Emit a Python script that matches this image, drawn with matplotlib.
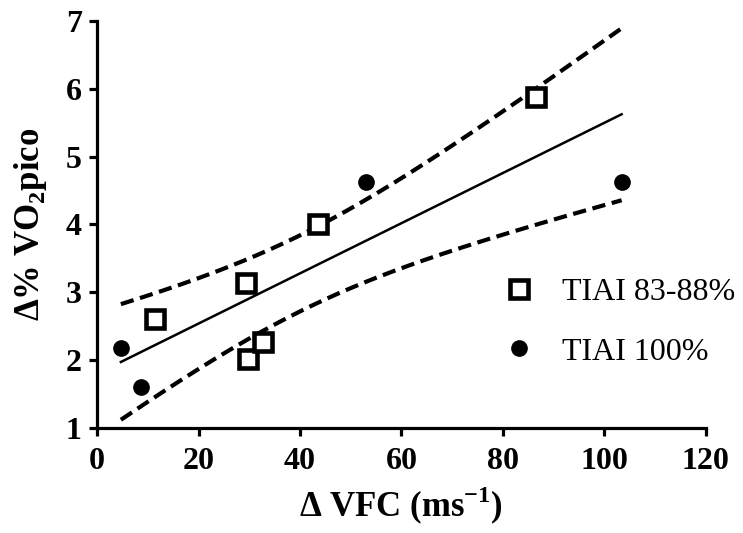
import numpy as np
import matplotlib
matplotlib.use("Agg")
import matplotlib.pyplot as plt

plt.rcParams['font.family'] = ['Liberation Serif', 'DejaVu Serif']
plt.rcParams['mathtext.fontset'] = 'custom'
plt.rcParams['mathtext.rm'] = 'Liberation Serif'
plt.rcParams['mathtext.bf'] = 'Liberation Serif:bold'

# TIAI 83-88% (open squares)
sq_x = [11.4, 29.4, 29.8, 32.8, 43.5, 86.5]
sq_y = [2.60, 3.13, 2.01, 2.26, 4.00, 5.87]
# TIAI 100% (filled circles)
ci_x = [4.7, 8.7, 53.0, 103.4]
ci_y = [2.18, 1.61, 4.62, 4.62]

series_labels = ['TIAI 83-88%', 'TIAI 100%']
x_ticks = [0, 20, 40, 60, 80, 100, 120]
y_ticks = [1, 2, 3, 4, 5, 6, 7]

# linear regression over all points, with 95% confidence band of the mean
x_all = np.array(sq_x + ci_x)
y_all = np.array(sq_y + ci_y)
n = len(x_all)
slope, intercept = np.polyfit(x_all, y_all, 1)
resid = y_all - (slope * x_all + intercept)
s = np.sqrt(np.sum(resid ** 2) / (n - 2))
sxx = np.sum((x_all - x_all.mean()) ** 2)
t_crit = 2.306  # t(0.975, df=8)
xf = np.linspace(x_all.min(), x_all.max(), 200)
yf = slope * xf + intercept
half = t_crit * s * np.sqrt(1.0 / n + (xf - x_all.mean()) ** 2 / sxx)

fig = plt.figure(figsize=(7.43, 5.33), dpi=100)
ax = fig.add_axes([0.1306, 0.197, 0.8194, 0.764])

ax.plot(xf, yf, color='black', lw=1.8, zorder=2)
ax.plot(xf, yf + half, color='black', lw=3, dashes=(3.2, 1.6), zorder=2)
ax.plot(xf, yf - half, color='black', lw=3, dashes=(3.2, 1.6), zorder=2)

ax.plot(sq_x, sq_y, ls='none', marker='s', ms=12.5, mfc='white', mec='black',
        mew=3.3, label=series_labels[0], zorder=3)
ax.plot(ci_x, ci_y, ls='none', marker='o', ms=11, mfc='black', mec='black',
        label=series_labels[1], zorder=3)

ax.set_xlim(0, 120)
ax.set_ylim(1, 7)
ax.set_xticks(x_ticks)
ax.set_yticks(y_ticks)
for side in ['top', 'right']:
    ax.spines[side].set_visible(False)
for side in ['left', 'bottom']:
    ax.spines[side].set_linewidth(2.3)
ax.tick_params(direction='out', length=6, width=2.3, labelsize=23, pad=5)
ax.tick_params(axis='x', pad=8)
for lab in ax.get_xticklabels() + ax.get_yticklabels():
    lab.set_fontweight('bold')

ax.set_xlabel(r'Δ VFC (ms$^{\mathbf{-1}}$)', fontsize=25, fontweight='bold', labelpad=6)
ax.set_ylabel(r'Δ% VO$_{\mathbf{2}}$pico', fontsize=25, fontweight='bold', labelpad=12)

ax.legend(loc='center left', bbox_to_anchor=(0.62, 0.26), frameon=False,
          fontsize=23, handletextpad=0.35, labelspacing=0.95, borderaxespad=0)

fig.savefig('out.png', dpi=100)
